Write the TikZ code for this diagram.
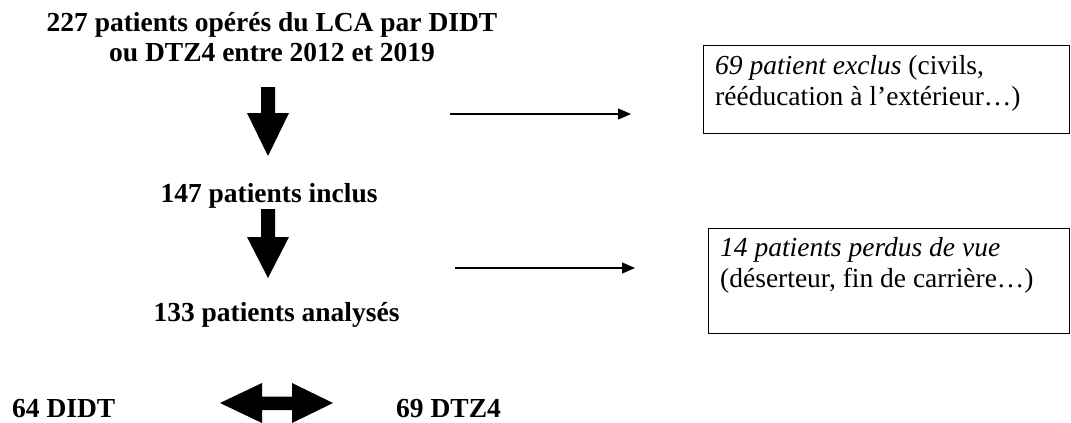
\documentclass[tikz,border=0pt]{standalone}
\usepackage{fontspec}
\setmainfont{Liberation Serif}
\usetikzlibrary{arrows.meta}
\begin{document}
\begin{tikzpicture}[x=1pt,y=-1pt,
  lbl/.style={inner sep=0pt, font=\fontsize{27.5}{30}\selectfont\bfseries},
  boxtext/.style={inner sep=0pt, align=left, font=\fontsize{27.5}{31}\selectfont},
  framebox/.style={draw, line width=1.3pt, inner sep=0pt, anchor=north west},
  fatarrow/.style={fill=black},
  thinarrow/.style={line width=1.3pt, -{Triangle[length=13pt,width=11pt]}}]
\useasboundingbox (0,0) rectangle (1071,423);
\fill[white] (0,0) rectangle (1071,423);
% main column
\node[lbl, align=center, anchor=base] (start) at (272,61) {227 patients opérés du LCA par DIDT\\ou DTZ4 entre 2012 et 2019};
\node[lbl, anchor=base] (incl) at (269,202) {147 patients inclus};
\node[lbl, anchor=base] (anal) at (276.5,321) {133 patients analysés};
\node[lbl, anchor=base west] (didt) at (12,417) {64 DIDT};
\node[lbl, anchor=base west] (dtz) at (396,417) {69 DTZ4};
% fat arrows
\fill[fatarrow] (261,87) -- (275,87) -- (275,113) -- (289,113) -- (268,156) -- (247,113) -- (261,113) -- cycle;
\fill[fatarrow] (261,209) -- (275,209) -- (275,237) -- (289,237) -- (268,278) -- (247,237) -- (261,237) -- cycle;
\fill[fatarrow] (220,403) -- (262,383) -- (262,396.5) -- (292,396.5) -- (292,383) -- (333,403) -- (292,423) -- (292,410) -- (262,410) -- (262,423) -- cycle;
% boxes
\node[framebox, minimum width=366pt, minimum height=88pt] (exclbox) at (703,45) {};
\node[boxtext, anchor=base west] (excl) at (715,105) {\textit{69 patient exclus} (civils,\\rééducation à l’extérieur…)};
\node[framebox, minimum width=361pt, minimum height=105pt] (lostbox) at (708,228) {};
\node[boxtext, anchor=base west] (lost) at (720,287) {\textit{14 patients perdus de vue}\\(déserteur, fin de carrière…)};
% thin arrows
\coordinate (a1s) at (450,114);
\coordinate (a1e) at (631,114);
\coordinate (a2s) at (455,268);
\coordinate (a2e) at (635,268);
\draw[thinarrow] (a1s) -- (a1e);
\draw[thinarrow] (a2s) -- (a2e);
\end{tikzpicture}
\end{document}
